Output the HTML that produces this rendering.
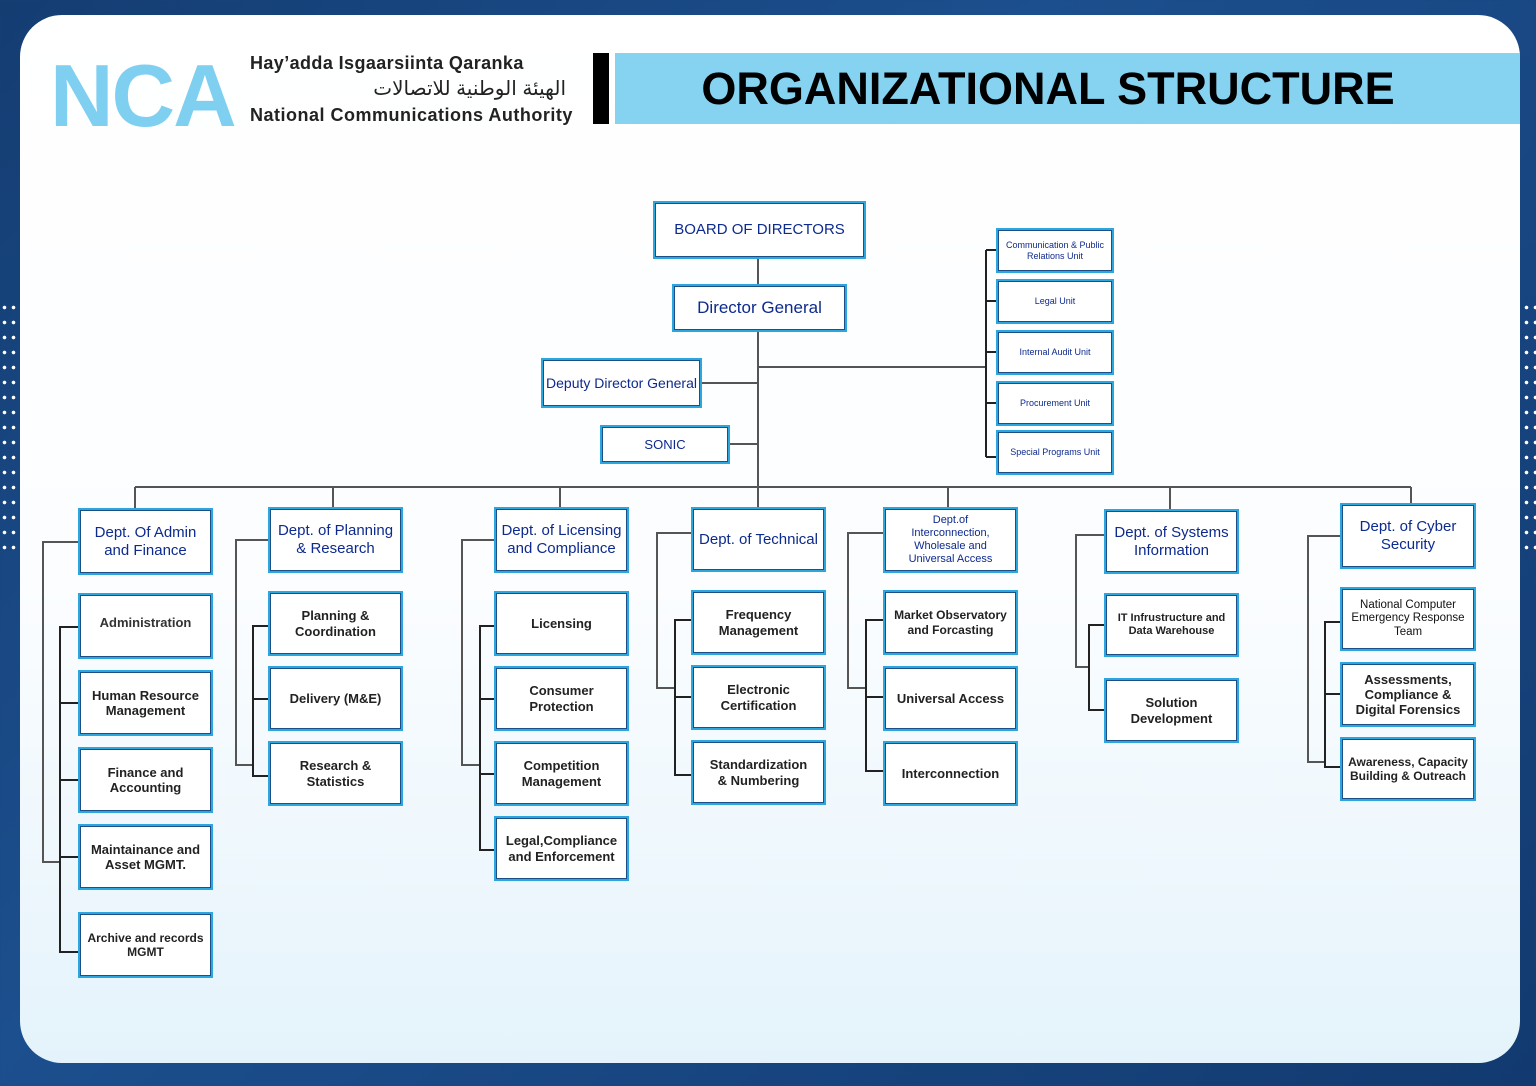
<!DOCTYPE html>
<html><head><meta charset="utf-8"><style>
*{margin:0;padding:0;box-sizing:border-box}
body{width:1536px;height:1086px;position:relative;overflow:hidden;background:linear-gradient(135deg,#143d72 0%,#1c4f8e 40%,#123a70 100%);font-family:"Liberation Sans",sans-serif}
.card{position:absolute;left:20px;top:15px;width:1500px;height:1048px;border-radius:42px;background:linear-gradient(180deg,#ffffff 0%,#fbfdff 55%,#e4f3fb 100%);overflow:hidden}
.b{position:absolute;background:#fff;border:2px solid #2ba6df;box-shadow:inset 0 0 0 1px #1d4e86;display:flex;align-items:center;justify-content:center;text-align:center;line-height:1.18}
.d{color:#0d2a8e;font-size:15px}
.s{color:#222;font-size:13px;font-weight:bold}
.u{color:#0d2a8e;font-size:9px}
.dots{position:absolute;width:18px;background-image:radial-gradient(circle,#fff 1.6px,transparent 2px);background-size:9px 15px}
</style></head><body>
<div class="dots" style="left:0;top:300px;height:260px"></div>
<div class="dots" style="left:1522px;top:300px;height:260px"></div>
<div class="card"></div>
<!-- logo -->
<div style="position:absolute;left:50px;top:52px;font-size:88px;font-weight:bold;color:#7fd0f0;letter-spacing:-2px;line-height:88px">NCA</div>
<div style="position:absolute;left:250px;top:53px;font-size:18px;font-weight:bold;color:#222;letter-spacing:0.4px">Hay’adda Isgaarsiinta Qaranka</div>
<div style="position:absolute;left:250px;top:76px;font-size:20px;color:#222;font-family:'Liberation Sans','DejaVu Sans',sans-serif;width:316px;text-align:right" dir="rtl">الهيئة الوطنية للاتصالات</div>
<div style="position:absolute;left:250px;top:105px;font-size:18px;font-weight:bold;color:#222;letter-spacing:0.5px">National Communications Authority</div>
<div style="position:absolute;left:593px;top:53px;width:16px;height:71px;background:#000"></div>
<div style="position:absolute;left:615px;top:53px;width:905px;height:71px;background:#86d2f1"></div>
<div style="position:absolute;left:615px;top:53px;width:866px;height:71px;display:flex;align-items:center;justify-content:center;font-size:45px;font-weight:bold;color:#000;letter-spacing:0">ORGANIZATIONAL STRUCTURE</div>

<svg style="position:absolute;left:0;top:0" width="1536" height="1086">
<g fill="none" stroke-width="2">
<g stroke="#555">
<path d="M758 259V487M702 383H758M730 444H758M758 367H986"/>
<path d="M135 487H1411M135 487V508M333 487V507M560 487V507M758 487V507M948 487V507M1170 487V509M1411 487V503"/>
<path d="M78 542H43V862H60M268 540H236V765H253M494 540H462V765H480M691 533H657V688H675M883 533H848V688H866M1104 535H1076V667H1089M1340 536H1308V762H1325"/>
</g>
<g stroke="#222">
<path d="M986 250V457M986 250H996M986 301H996M986 352H996M986 403H996M986 457H996"/>
<path d="M78 627H60V952H78M60 703H78M60 780H78M60 857H78"/>
<path d="M268 626H253V776H268M253 699H268"/>
<path d="M494 626H480V850H494M480 699H494M480 774H494"/>
<path d="M691 620H675V775H691M675 697H691"/>
<path d="M883 620H866V771H883M866 697H883"/>
<path d="M1104 625H1089V710H1104"/>
<path d="M1340 622H1325V767H1340M1325 694H1340"/>
</g>
</g>
</svg>

<div class="b d" style="left:653px;top:201px;width:213px;height:58px">BOARD OF DIRECTORS</div>
<div class="b d" style="left:672px;top:284px;width:175px;height:48px;font-size:17px">Director General</div>
<div class="b d" style="left:541px;top:358px;width:161px;height:50px;font-size:14px">Deputy Director General</div>
<div class="b d" style="left:600px;top:425px;width:130px;height:39px;font-size:13px">SONIC</div>

<div class="b u" style="left:996px;top:228px;width:118px;height:45px">Communication &amp; Public<br>Relations Unit</div>
<div class="b u" style="left:996px;top:279px;width:118px;height:45px">Legal Unit</div>
<div class="b u" style="left:996px;top:330px;width:118px;height:45px">Internal Audit Unit</div>
<div class="b u" style="left:996px;top:381px;width:118px;height:45px">Procurement Unit</div>
<div class="b u" style="left:996px;top:430px;width:118px;height:45px">Special Programs Unit</div>

<div class="b d" style="left:78px;top:508px;width:135px;height:67px">Dept. Of Admin<br>and Finance</div>
<div class="b d" style="left:268px;top:507px;width:135px;height:66px">Dept. of Planning<br>&amp; Research</div>
<div class="b d" style="left:494px;top:507px;width:135px;height:66px">Dept. of Licensing<br>and Compliance</div>
<div class="b d" style="left:691px;top:507px;width:135px;height:65px">Dept. of Technical</div>
<div class="b d" style="left:883px;top:507px;width:135px;height:66px;font-size:11px">Dept.of<br>Interconnection,<br>Wholesale and<br>Universal Access</div>
<div class="b d" style="left:1104px;top:509px;width:135px;height:65px">Dept. of Systems<br>Information</div>
<div class="b d" style="left:1340px;top:503px;width:136px;height:66px">Dept. of Cyber<br>Security</div>

<div class="b s" style="left:78px;top:593px;width:135px;height:66px;align-items:flex-start;padding-top:20px;color:#333">Administration</div>
<div class="b s" style="left:78px;top:670px;width:135px;height:66px">Human Resource<br>Management</div>
<div class="b s" style="left:78px;top:747px;width:135px;height:66px">Finance and<br>Accounting</div>
<div class="b s" style="left:78px;top:824px;width:135px;height:66px">Maintainance and<br>Asset MGMT.</div>
<div class="b s" style="left:78px;top:912px;width:135px;height:66px;font-size:12px">Archive and records<br>MGMT</div>

<div class="b s" style="left:268px;top:591px;width:135px;height:65px">Planning &amp;<br>Coordination</div>
<div class="b s" style="left:268px;top:666px;width:135px;height:65px">Delivery (M&amp;E)</div>
<div class="b s" style="left:268px;top:741px;width:135px;height:65px">Research &amp;<br>Statistics</div>

<div class="b s" style="left:494px;top:591px;width:135px;height:65px">Licensing</div>
<div class="b s" style="left:494px;top:666px;width:135px;height:65px">Consumer<br>Protection</div>
<div class="b s" style="left:494px;top:741px;width:135px;height:65px">Competition<br>Management</div>
<div class="b s" style="left:494px;top:816px;width:135px;height:65px">Legal,Compliance<br>and Enforcement</div>

<div class="b s" style="left:691px;top:590px;width:135px;height:65px">Frequency<br>Management</div>
<div class="b s" style="left:691px;top:665px;width:135px;height:65px">Electronic<br>Certification</div>
<div class="b s" style="left:691px;top:740px;width:135px;height:65px">Standardization<br>&amp; Numbering</div>

<div class="b s" style="left:883px;top:590px;width:135px;height:65px;font-size:12px">Market Observatory<br>and Forcasting</div>
<div class="b s" style="left:883px;top:666px;width:135px;height:65px">Universal Access</div>
<div class="b s" style="left:883px;top:741px;width:135px;height:65px">Interconnection</div>

<div class="b s" style="left:1104px;top:593px;width:135px;height:64px;font-size:11px">IT Infrustructure and<br>Data Warehouse</div>
<div class="b s" style="left:1104px;top:678px;width:135px;height:65px">Solution<br>Development</div>

<div class="b s" style="left:1340px;top:587px;width:136px;height:64px;font-size:11.5px;font-weight:normal;color:#111">National Computer<br>Emergency Response<br>Team</div>
<div class="b s" style="left:1340px;top:662px;width:136px;height:65px">Assessments,<br>Compliance &amp;<br>Digital Forensics</div>
<div class="b s" style="left:1340px;top:737px;width:136px;height:64px;font-size:12px">Awareness, Capacity<br>Building &amp; Outreach</div>
</body></html>
